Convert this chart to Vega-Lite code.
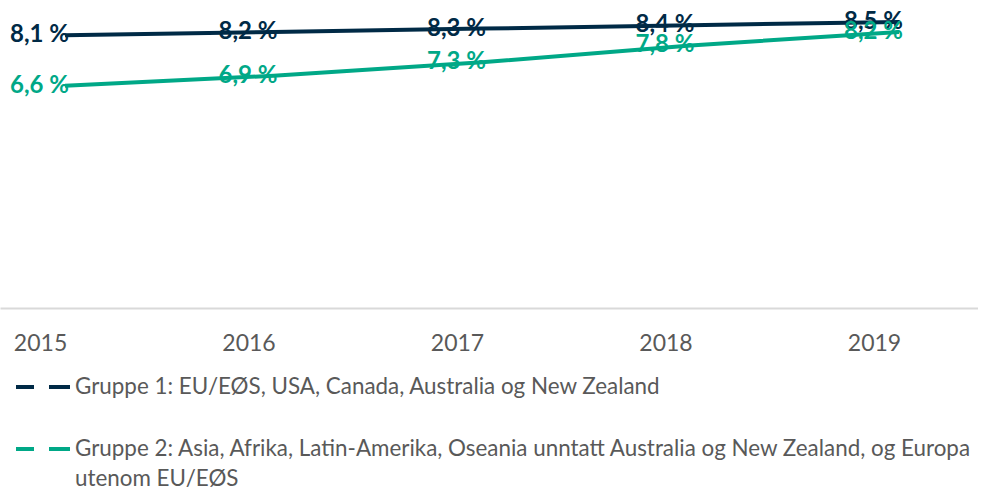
{
  "$schema": "https://vega.github.io/schema/vega-lite/v6.json",
  "width": 978,
  "height": 308,
  "autosize": {"type": "pad"},
  "padding": 0,
  "background": "white",
  "config": {
    "view": {"stroke": null},
    "legend": {"padding": 0},
    "style": {"guide-label": {"lineHeight": 30}}
  },
  "data": {
    "values": [
      {"aar": 2015, "verdi": 8.1, "gruppe": "Gruppe 1: EU/EØS, USA, Canada, Australia og New Zealand"},
      {"aar": 2016, "verdi": 8.2, "gruppe": "Gruppe 1: EU/EØS, USA, Canada, Australia og New Zealand"},
      {"aar": 2017, "verdi": 8.3, "gruppe": "Gruppe 1: EU/EØS, USA, Canada, Australia og New Zealand"},
      {"aar": 2018, "verdi": 8.4, "gruppe": "Gruppe 1: EU/EØS, USA, Canada, Australia og New Zealand"},
      {"aar": 2019, "verdi": 8.5, "gruppe": "Gruppe 1: EU/EØS, USA, Canada, Australia og New Zealand"},
      {"aar": 2015, "verdi": 6.6, "gruppe": "Gruppe 2: Asia, Afrika, Latin-Amerika, Oseania unntatt Australia og New Zealand, og Europa utenom EU/EØS"},
      {"aar": 2016, "verdi": 6.9, "gruppe": "Gruppe 2: Asia, Afrika, Latin-Amerika, Oseania unntatt Australia og New Zealand, og Europa utenom EU/EØS"},
      {"aar": 2017, "verdi": 7.3, "gruppe": "Gruppe 2: Asia, Afrika, Latin-Amerika, Oseania unntatt Australia og New Zealand, og Europa utenom EU/EØS"},
      {"aar": 2018, "verdi": 7.8, "gruppe": "Gruppe 2: Asia, Afrika, Latin-Amerika, Oseania unntatt Australia og New Zealand, og Europa utenom EU/EØS"},
      {"aar": 2019, "verdi": 8.2, "gruppe": "Gruppe 2: Asia, Afrika, Latin-Amerika, Oseania unntatt Australia og New Zealand, og Europa utenom EU/EØS"}
    ]
  },
  "transform": [
    {"calculate": "replace(format(datum.verdi, '.1f'), '.', ',') + ' %'", "as": "etikett"}
  ],
  "encoding": {
    "x": {
      "field": "aar",
      "type": "quantitative",
      "scale": {"domain": [2014.688, 2019.379], "nice": false, "zero": false},
      "axis": {
        "title": null,
        "values": [2015, 2016, 2017, 2018, 2019],
        "format": "d",
        "grid": false,
        "ticks": false,
        "domainColor": "#d9d9d9",
        "domainWidth": 2,
        "labelFont": "Lato",
        "labelFontSize": 23,
        "labelColor": "#595959",
        "labelPadding": 24,
        "labelOffset": -25,
        "labelFlush": false
      }
    },
    "y": {
      "field": "verdi",
      "type": "quantitative",
      "scale": {"domain": [0, 9.15], "nice": false},
      "axis": null
    },
    "color": {
      "field": "gruppe",
      "type": "nominal",
      "scale": {
        "domain": [
          "Gruppe 1: EU/EØS, USA, Canada, Australia og New Zealand",
          "Gruppe 2: Asia, Afrika, Latin-Amerika, Oseania unntatt Australia og New Zealand, og Europa utenom EU/EØS"
        ],
        "range": ["#002A46", "#00A887"]
      },
      "legend": {
        "title": null,
        "orient": "none",
        "legendX": 14,
        "legendY": 358,
        "direction": "vertical",
        "symbolType": "stroke",
        "symbolSize": 2916,
        "symbolStrokeWidth": 4,
        "symbolDash": [18, 15, 21, 15],
        "labelFont": "Lato",
        "labelFontSize": 22.4,
        "labelColor": "#595959",
        "labelLimit": 2000,
        "labelOffset": 3,
        "rowPadding": 21,
        "labelExpr": "indexof(datum.label, 'Gruppe 2') == 0 ? ['Gruppe 2: Asia, Afrika, Latin-Amerika, Oseania unntatt Australia og New Zealand, og Europa', 'utenom EU/EØS'] : datum.label"
      }
    }
  },
  "layer": [
    {"mark": {"type": "line", "strokeWidth": 4}},
    {
      "mark": {"type": "text", "align": "right", "dx": 4, "baseline": "middle", "fontWeight": "bold", "fontSize": 24, "font": "Lato"},
      "encoding": {"text": {"field": "etikett"}}
    }
  ]
}
